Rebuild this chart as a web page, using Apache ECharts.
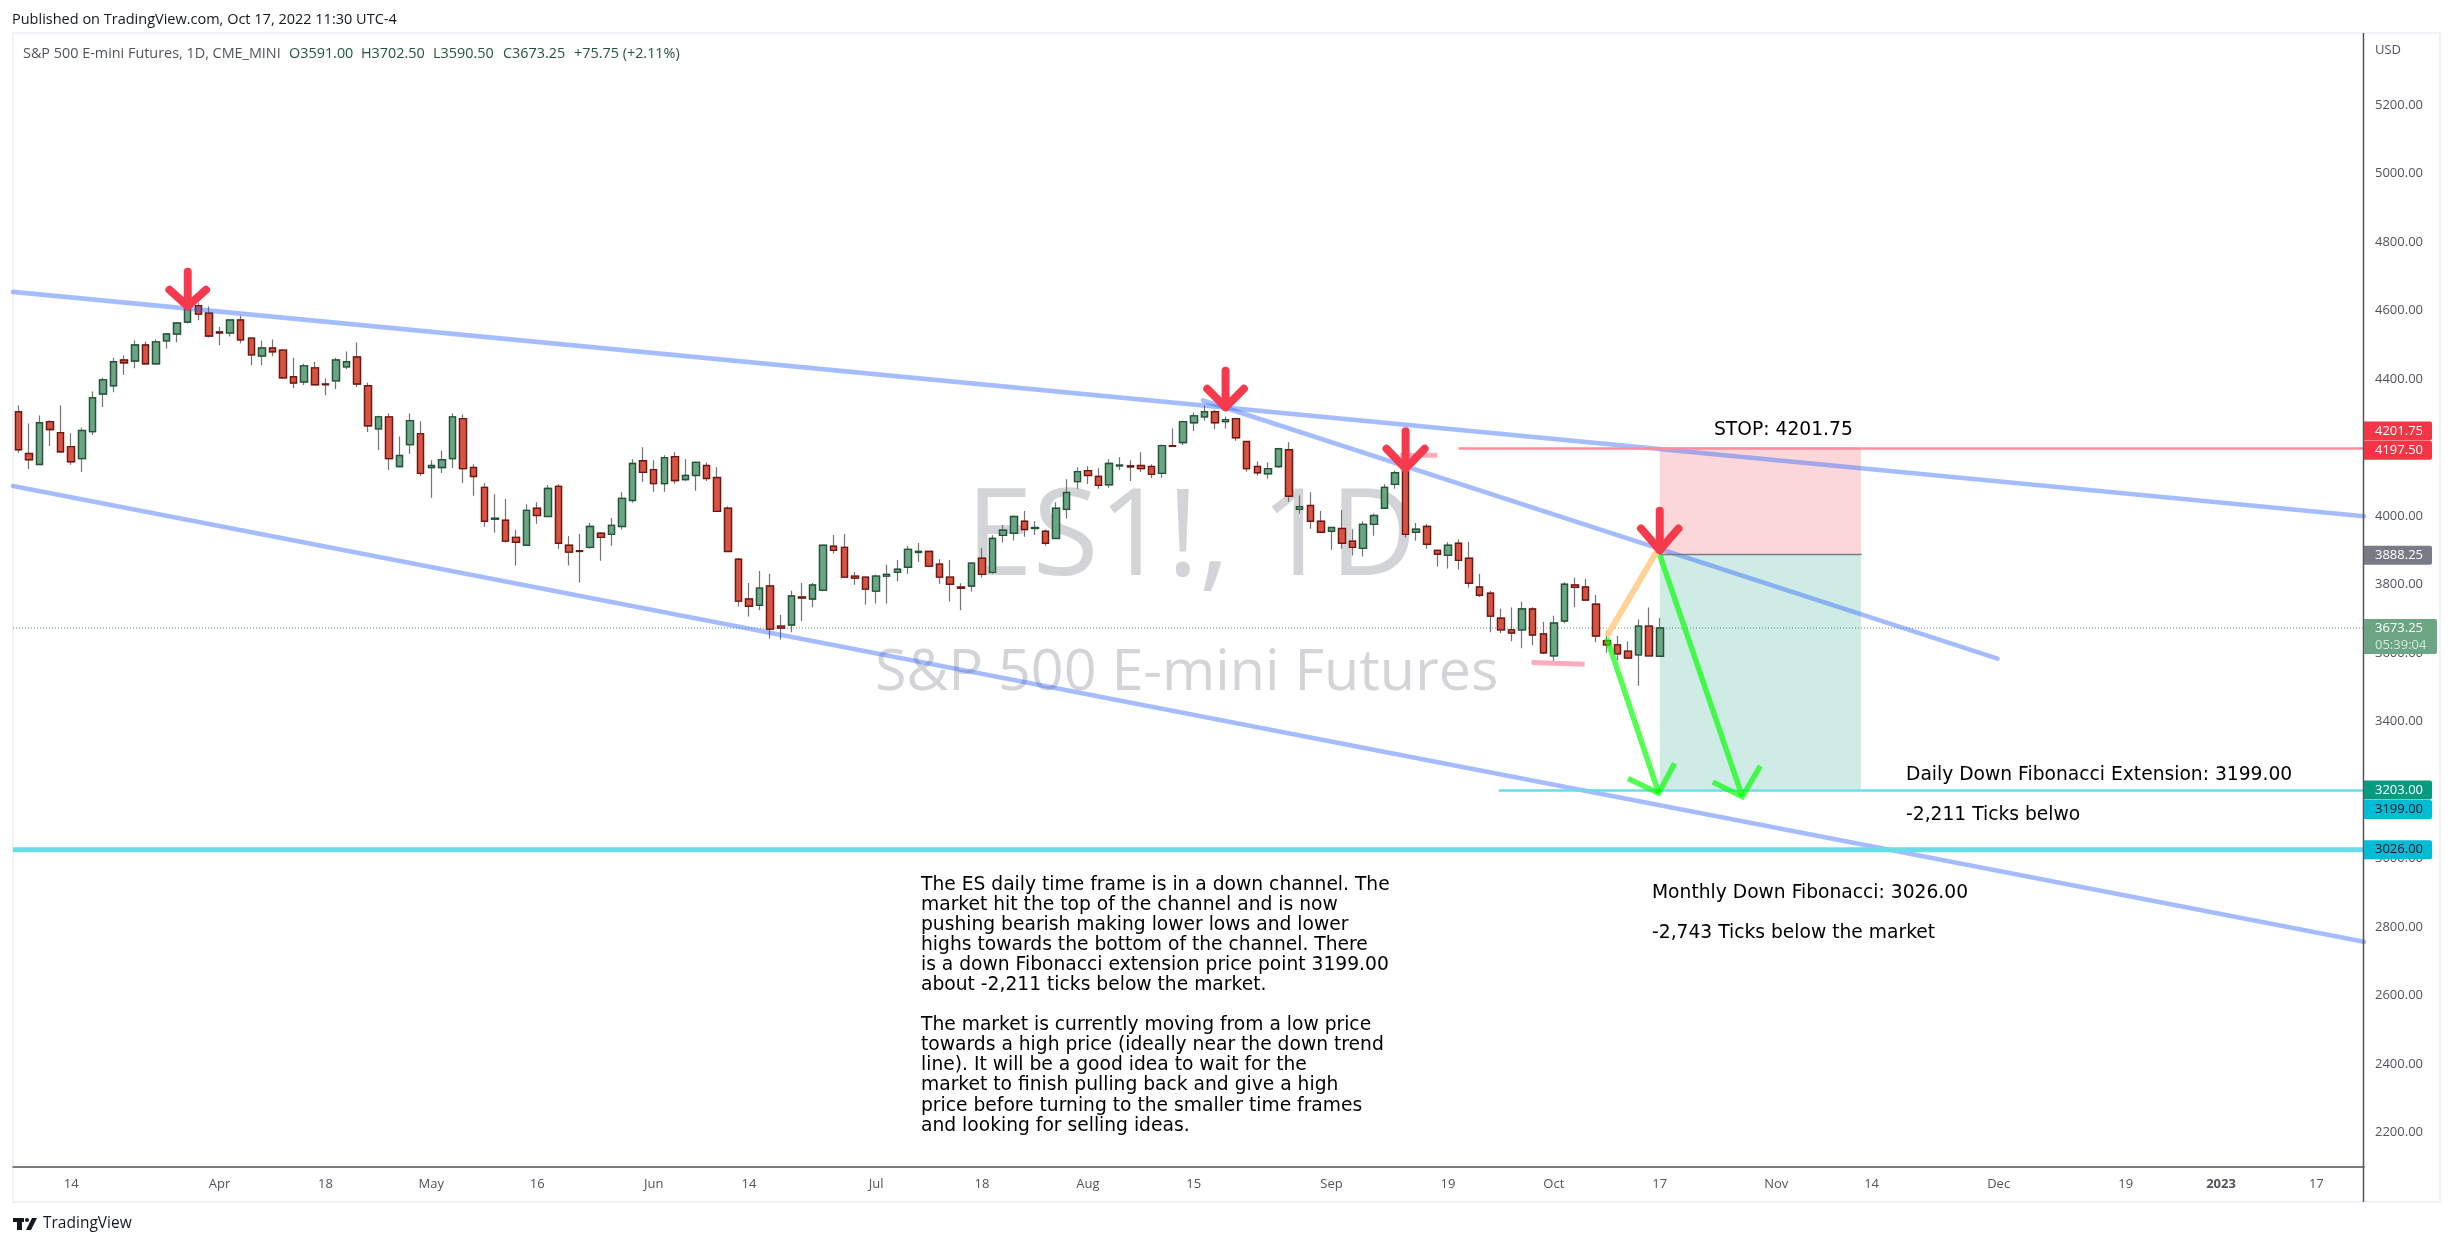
<!DOCTYPE html>
<html><head><meta charset="utf-8">
<style>html,body{margin:0;padding:0;background:#fff}#c{width:2453px;height:1246px}</style>
<script src="https://cdn.jsdelivr.net/npm/echarts@6/dist/echarts.min.js"></script>
</head><body><div id="c"></div>
<script>
// Daily OHLC candles: [open, close, low, high]
const ohlc = [
[4305,4194,4185,4323],[4183,4165,4138,4271],[4151,4273,4151,4294],[4276,4253,4205,4280],[4244,4188,4188,4323],[4203,4159,4150,4242],[4168,4250,4129,4259],[4247,4346,4237,4364],[4357,4398,4319,4405],[4381,4451,4362,4463],
[4456,4448,4412,4469],[4453,4500,4432,4513],[4500,4445,4445,4510],[4445,4509,4445,4516],[4512,4532,4490,4535],[4532,4564,4508,4567],[4567,4619,4563,4619],[4615,4590,4572,4623],[4593,4526,4522,4612],[4538,4535,4499,4553],
[4535,4573,4525,4576],[4573,4515,4505,4585],[4520,4471,4441,4522],[4468,4491,4441,4513],[4491,4480,4467,4516],[4485,4404,4400,4488],[4407,4389,4374,4463],[4392,4439,4383,4445],[4433,4384,4384,4451],[4386,4384,4353,4402],
[4395,4456,4371,4463],[4436,4451,4429,4481],[4465,4386,4377,4507],[4381,4264,4246,4390],[4255,4290,4193,4293],[4290,4168,4135,4300],[4145,4177,4145,4233],[4209,4279,4182,4300],[4241,4125,4118,4277],[4142,4148,4054,4163],
[4142,4165,4126,4192],[4168,4290,4141,4300],[4285,4139,4097,4297],[4142,4116,4060,4152],[4084,3985,3969,4096],[3991,3994,3952,4064],[3988,3927,3923,4050],[3938,3924,3856,3960],[3915,4017,3915,4035],[4023,4002,3978,4041],
[3999,4081,3999,4091],[4087,3921,3905,4094],[3915,3895,3856,3942],[3899,3897,3806,3948],[3909,3970,3905,3980],[3950,3938,3870,3953],[3947,3973,3914,3995],[3970,4052,3961,4070],[4046,4154,4039,4166],[4162,4128,4100,4201],
[4136,4095,4071,4163],[4095,4171,4071,4178],[4174,4104,4095,4187],[4107,4119,4103,4166],[4119,4157,4074,4160],[4148,4110,4103,4157],[4113,4014,4014,4143],[4023,3897,3897,4029],[3874,3752,3736,3878],[3758,3737,3707,3805],
[3740,3790,3725,3840],[3796,3670,3643,3832],[3679,3673,3640,3712],[3682,3767,3661,3782],[3764,3761,3693,3805],[3758,3799,3734,3805],[3784,3915,3781,3916],[3912,3900,3891,3945],[3909,3822,3822,3948],[3825,3819,3800,3837],
[3822,3787,3742,3822],[3781,3825,3745,3830],[3825,3830,3745,3858],[3836,3845,3809,3872],[3851,3903,3832,3913],[3894,3897,3866,3922],[3897,3854,3851,3897],[3860,3822,3803,3874],[3822,3801,3751,3872],[3793,3790,3725,3804],
[3796,3863,3780,3865],[3877,3830,3821,3907],[3836,3935,3832,3944],[3944,3959,3923,3974],[3950,3999,3929,4002],[3985,3961,3940,4015],[3964,3967,3945,3986],[3956,3921,3914,3961],[3935,4023,3935,4041],[4020,4069,3993,4108],
[4101,4130,4080,4143],[4133,4119,4094,4146],[4116,4090,4080,4140],[4092,4154,4083,4166],[4147,4149,4135,4172],[4147,4144,4103,4163],[4148,4139,4129,4187],[4145,4122,4111,4152],[4125,4206,4112,4209],[4206,4204,4203,4256],
[4215,4276,4208,4279],[4273,4293,4249,4303],[4290,4305,4279,4323],[4305,4273,4254,4311],[4276,4282,4256,4291],[4285,4229,4220,4285],[4218,4139,4130,4218],[4145,4127,4118,4160],[4124,4139,4109,4157],[4145,4197,4141,4200],
[4194,4058,4042,4216],[4020,4028,4007,4061],[4031,3985,3963,4070],[3985,3953,3953,4015],[3956,3967,3902,3967],[3964,3921,3905,4018],[3927,3909,3885,3962],[3906,3976,3882,3985],[3976,4002,3943,4008],[4023,4084,4023,4093],
[4093,4127,4080,4133],[4133,3947,3938,4168],[3953,3962,3929,3980],[3970,3918,3905,3977],[3900,3889,3853,3903],[3886,3915,3847,3924],[3921,3871,3844,3932],[3877,3804,3792,3925],[3793,3769,3764,3832],[3775,3708,3661,3782],
[3702,3668,3658,3730],[3668,3659,3635,3733],[3668,3729,3614,3750],[3729,3653,3623,3734],[3656,3601,3597,3692],[3592,3688,3573,3709],[3694,3801,3687,3807],[3799,3792,3734,3820],[3793,3755,3752,3817],[3743,3650,3632,3770],
[3636,3624,3601,3666],[3624,3598,3579,3651],[3606,3586,3586,3634],[3595,3679,3505,3698],[3679,3592,3592,3733],[3591,3673.25,3590.5,3702.5]
];
const barSlots = 222;                 // bars that fit in the time scale (incl. future space)
const xTickIndex = [5,19,29,39,49,60,69,81,91,101,111,124,135,145,155,166,175,187,199,208,217];
const xTickLabel = ['14','Apr','18','May','16','Jun','14','Jul','18','Aug','15','Sep','19','Oct','17','Nov','14','Dec','19','2023','17'];
const yTicks = [2200,2400,2600,2800,3000,3200,3400,3600,3800,4000,4200,4400,4600,4800,5000,5200];

// Drawings in [bar index, price]
const channelTop = [[-0.5,4655],[221.5,4000]];
const channelBottom = [[-0.5,4088],[221.5,2757]];
const innerTrend = [[111.87,4338],[186.9,3584]];
const stopLine = [[136,4197.5],[221.5,4197.5]];
const fibDaily = [[139.8,3199],[221.5,3199]];
const fibMonthly = [[-0.5,3026],[221.5,3026]];
const lastPriceLine = [[-0.5,3673.25],[221.5,3673.25]];
const entryLine = [[155,3888.25],[174,3888.25]];
const pinkHigh = [[130.5,4178],[134,4178]];
const pinkLow = [[142.9,3573],[147.9,3567.5]];
const pullback = [[150,3649],[154.7,3896]];
const greenArrows = [
  [[150,3644],[154.9,3191]], [[152,3234],[154.9,3191],[156.4,3278]],
  [[155,3887],[162.8,3181]], [[160,3224],[162.8,3181],[164.5,3271]]
];
const redArrows = [
  [[16,4714],[16,4613]], [[14.27,4661],[16,4613],[17.73,4661]],
  [[114,4425],[114,4318]], [[112.27,4372],[114,4318],[115.73,4372]],
  [[131,4248],[131,4139]], [[129.2,4197],[131,4139],[132.8,4197]],
  [[155,4016],[155,3901]], [[153.24,3964],[155,3901],[156.76,3964]]
];
const riskZone = [155,174,4201.75,3888.25];
const rewardZone = [155,174,3888.25,3203];

const tagValues = [4201.75,4197.5,3888.25,3673.25,3203,3199,3026];
const tagTexts = ['4201.75','4197.50','3888.25','3673.25','3203.00','3199.00','3026.00'];
const tagFills = ['#f23645','#f23645','#787b86','#6ba583','#089981','#00bcd4','#00bcd4'];
const tagInks = ['#fff','#fff','#fff','#fff','#fff','#131722','#131722'];
const countdownText = '05:39:04';

const publishedText = 'Published on TradingView.com, Oct 17, 2022 11:30 UTC-4';
const legendName = 'S&P 500 E-mini Futures, 1D, CME_MINI';
const legendValues = ['O3591.00','H3702.50','L3590.50','C3673.25','+75.75 (+2.11%)'];
const watermarkTop = 'ES1!, 1D';
const watermarkBottom = 'S&P 500 E-mini Futures';
const stopNote = 'STOP: 4201.75';
const dailyNote = ['Daily Down Fibonacci Extension: 3199.00','-2,211 Ticks belwo'];
const monthlyNote = ['Monthly Down Fibonacci: 3026.00','-2,743 Ticks below the market'];
const analysisNote = [
'The ES daily time frame is in a down channel. The',
'market hit the top of the channel and is now',
'pushing bearish making lower lows and lower',
'highs towards the bottom of the channel. There',
'is a down Fibonacci extension price point 3199.00',
'about -2,211 ticks below the market.',
'',
'The market is currently moving from a low price',
'towards a high price (ideally near the down trend',
'line). It will be a good idea to wait for the',
'market to finish pulling back and give a high',
'price before turning to the smaller time frames',
'and looking for selling ideas.'];

// styles / layout
const uiFont = '"Open Sans", sans-serif';
const noteFont = '"DejaVu Sans", sans-serif';
const axisInk = '#50535e';
const tagShift = [-16,1.7,0.8,9,0.8,19,0];

const categories = Array.from({length:barSlots},(_,i)=>{
  const k = xTickIndex.indexOf(i); return k>=0 ? xTickLabel[k] : '';
});

function poly(points,color,width,z,extra){
  return Object.assign({type:'line',xAxisIndex:1,yAxisIndex:0,data:points,symbol:'none',silent:true,z:z,
    lineStyle:{color:color,width:width,cap:'round',join:'round'},animation:false},extra||{});
}
function zone(item,fill){
  return {type:'custom',xAxisIndex:1,yAxisIndex:0,silent:true,z:1,data:[item],animation:false,
    encode:{x:[0,1],y:[2,3]},
    renderItem:(p,api)=>{
      const a=api.coord([api.value(0),api.value(2)]),b=api.coord([api.value(1),api.value(3)]);
      return {type:'rect',shape:{x:a[0],y:a[1],width:b[0]-a[0],height:b[1]-a[1]},style:{fill:fill}};
    }};
}
const series = [
  zone(riskZone,'rgba(242,54,69,0.2)'),
  zone(rewardZone,'rgba(8,153,129,0.2)'),
  poly(lastPriceLine,'#5d9a78',1,2,{lineStyle:{color:'#5d9a78',width:1,type:[1,2]}}),
  {type:'candlestick',xAxisIndex:0,yAxisIndex:0,data:ohlc,barWidth:7,z:3,silent:true,animation:false,
   itemStyle:{color:'#737375',color0:'#737375',borderColor:'#737375',borderColor0:'#737375',borderWidth:1.2}},
  {type:'candlestick',xAxisIndex:0,yAxisIndex:0,barWidth:7,z:4,silent:true,animation:false,
   data:ohlc.map(d=>[d[0],d[1],Math.min(d[0],d[1]),Math.max(d[0],d[1])]),
   itemStyle:{color:'#6ba583',color0:'#d75442',borderColor:'#225437',borderColor0:'#6f1611',borderWidth:1.4}},
  poly(channelTop,'rgba(41,98,255,0.42)',4.6,5),
  poly(channelBottom,'rgba(41,98,255,0.42)',4.6,5),
  poly(innerTrend,'rgba(41,98,255,0.42)',4.6,5),
  poly(fibMonthly,'#6adce8',5,5,{lineStyle:{color:'#6adce8',width:5,cap:'butt'}}),
  poly(fibDaily,'#6adce8',2.6,5,{lineStyle:{color:'#6adce8',width:2.6,cap:'butt'}}),
  poly(stopLine,'#ff8c9b',2.6,5,{lineStyle:{color:'#ff8c9b',width:2.6,cap:'butt'}}),
  poly(entryLine,'#787b86',1.5,5),
  poly(pinkHigh,'#ffabbd',5,5,{lineStyle:{color:'#ffabbd',width:5,cap:'butt'}}),
  poly(pinkLow,'#ffabbd',5,5,{lineStyle:{color:'#ffabbd',width:5,cap:'butt'}}),
  poly(pullback,'#ffd295',6,6,{lineStyle:{color:'#ffd295',width:6,cap:'butt'}}),
  ...greenArrows.map(a=>poly(a,'rgba(0,255,0,0.68)',5.5,7,{lineStyle:{color:'rgba(0,255,0,0.68)',width:5.5,cap:'butt',join:'miter'}})),
  ...redArrows.map(a=>poly(a,'#f63a4d',8,8)),
  {type:'custom',xAxisIndex:1,yAxisIndex:0,silent:true,z:20,clip:false,animation:false,
   data:tagValues.map((v,i)=>[221.5,v,i]),encode:{x:0,y:1},
   renderItem:(p,api)=>{
     const i=api.value(2),c=api.coord([api.value(0),api.value(1)]);
     const cy=c[1]+tagShift[i], isLast=(tagTexts[i]==='3673.25');
     const x=c[0], w=isLast?73:68, h=isLast?35:19;
     const top=isLast?cy-18:cy-9.5;
     const kids=[{type:'rect',shape:{x:x,y:top,width:w,height:h,r:[0,2,2,0]},style:{fill:tagFills[i]}},
       {type:'text',style:{x:x+11,y:isLast?top+9.5:cy,text:tagTexts[i],fill:tagInks[i],font:'13px '+uiFont,verticalAlign:'middle',textAlign:'left'}}];
     if(isLast) kids.push({type:'text',style:{x:x+11,y:top+26,text:countdownText,fill:'rgba(255,255,255,0.72)',font:'13px '+uiFont,verticalAlign:'middle',textAlign:'left'}});
     return {type:'group',children:kids};
   }}
];

function t(x,y,text,opt){
  return Object.assign({type:'text',x:x,y:y,z:30,silent:true,
    style:Object.assign({text:text,fill:'#000',font:'16px '+noteFont,textVerticalAlign:'middle',verticalAlign:'middle'},opt&&opt.style)},opt&&opt.el);
}
const noteStyle={style:{font:'18.7px '+noteFont,fill:'#000'}};
const legendInk='#225437';
const graphics=[
  {type:'rect',z:0,silent:true,shape:{x:13,y:33,width:2427,height:1169},style:{fill:'none',stroke:'#f0f3fa',lineWidth:2}},
  {type:'line',z:10,silent:true,shape:{x1:2363.5,y1:33,x2:2363.5,y2:1202},style:{stroke:axisInk,lineWidth:1.5}},
  t(966,541,watermarkTop,{style:{font:'120px '+uiFont,fill:'#d3d4d8'},el:{z:0}}),
  t(875,674,watermarkBottom,{style:{font:'57.5px '+uiFont,fill:'#d3d4d8'},el:{z:0}}),
  t(12,20,publishedText,{style:{font:'14.5px '+uiFont,fill:'#131722'}}),
  t(23,54,legendName,{style:{font:'14.4px '+uiFont,fill:'#50535e'}}),
  t(289,54,legendValues[0],{style:{font:'14.4px '+uiFont,fill:legendInk}}),
  t(361,54,legendValues[1],{style:{font:'14.4px '+uiFont,fill:legendInk}}),
  t(433,54,legendValues[2],{style:{font:'14.4px '+uiFont,fill:legendInk}}),
  t(503,54,legendValues[3],{style:{font:'14.4px '+uiFont,fill:legendInk}}),
  t(574,54,legendValues[4],{style:{font:'14.4px '+uiFont,fill:legendInk}}),
  t(2375,50,'USD',{style:{font:'13px '+uiFont,fill:axisInk}}),
  t(1714,430,stopNote,noteStyle),
  t(1906,775,dailyNote[0],noteStyle),
  t(1906,815,dailyNote[1],noteStyle),
  t(1652,893,monthlyNote[0],noteStyle),
  t(1652,933,monthlyNote[1],noteStyle),
  ...analysisNote.map((s,i)=>t(921,885+i*20.06,s,noteStyle)),
  {type:'rect',z:30,silent:true,shape:{x:13,y:1218,width:11,height:4},style:{fill:'#131722'}},
  {type:'rect',z:30,silent:true,shape:{x:17,y:1218,width:5,height:12},style:{fill:'#131722'}},
  {type:'circle',z:30,silent:true,shape:{cx:27,cy:1220,r:2},style:{fill:'#131722'}},
  {type:'polygon',z:30,silent:true,shape:{points:[[32,1218],[37,1218],[31,1230],[26,1230]]},style:{fill:'#131722'}},
  t(43,1224,'TradingView',{style:{font:'15.5px '+uiFont,fill:'#131722'}})
];

const chart=echarts.init(document.getElementById('c'),null,{renderer:'canvas',width:2453,height:1246});
chart.setOption({
  animation:false,backgroundColor:'#fff',
  grid:{left:13,right:89,top:33,bottom:79,containLabel:false},
  xAxis:[
    {type:'category',data:categories,boundaryGap:true,position:'bottom',
     axisLine:{show:true,lineStyle:{color:axisInk,width:1.5}},axisTick:{show:false},splitLine:{show:false},
     axisLabel:{interval:0,margin:11,hideOverlap:false,color:axisInk,fontFamily:uiFont,fontSize:13,
       formatter:v=>v==='2023'?'{y|2023}':v,rich:{y:{fontWeight:'bold',fontFamily:uiFont,fontSize:13,color:axisInk}}}},
    {type:'value',min:-0.5,max:221.5,show:false,splitLine:{show:false}}
  ],
  yAxis:[{type:'value',position:'right',min:2099.3,max:5411.1,scale:true,
    axisLine:{show:false},axisTick:{show:false},splitLine:{show:false},
    axisLabel:{customValues:yTicks,margin:11,color:axisInk,fontFamily:uiFont,fontSize:13,formatter:v=>v.toFixed(2)}}],
  graphic:{elements:graphics},
  series:series
});
</script></body></html>
